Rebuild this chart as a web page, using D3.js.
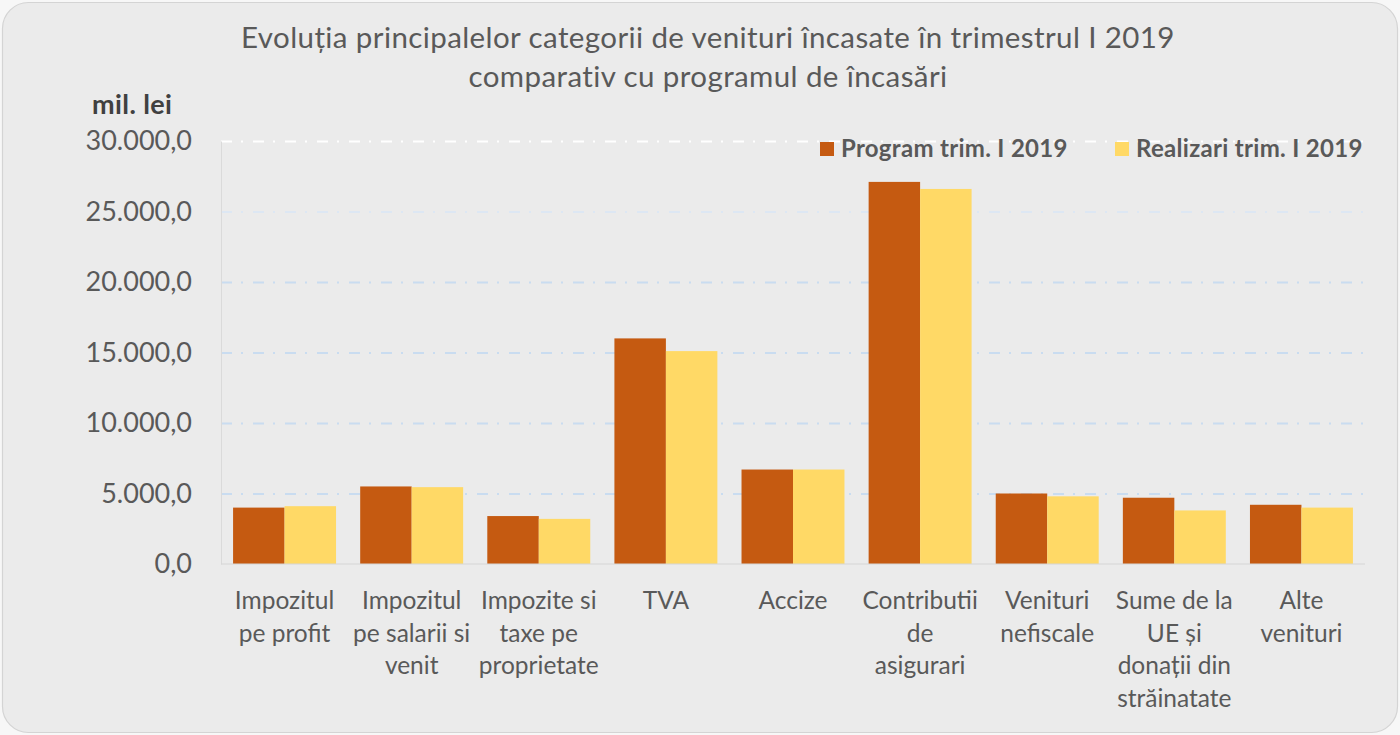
<!DOCTYPE html>
<html>
<head>
<meta charset="utf-8">
<script src="https://cdn.jsdelivr.net/npm/d3@7"></script>
<style>
  html, body { margin: 0; padding: 0; background: #f7f7f7; }
  svg { display: block; }
</style>
</head>
<body>
<div id="chart"></div>
<script>
// Categories (label lines as shown under the axis)
const categories = [
    ["Impozitul", "pe profit"],
    ["Impozitul", "pe salarii si", "venit"],
    ["Impozite si", "taxe pe", "proprietate"],
    ["TVA"],
    ["Accize"],
    ["Contributii", "de", "asigurari"],
    ["Venituri", "nefiscale"],
    ["Sume de la", "UE și", "donații din", "străinatate"],
    ["Alte", "venituri"]
];
const seriesNames = ["Program trim. I 2019", "Realizari trim. I 2019"];
const programValues = [4000, 5500, 3400, 16000, 6700, 27100, 5000, 4700, 4200];
const realizariValues = [4100, 5450, 3200, 15100, 6700, 26600, 4800, 3800, 4000];
const yTicks = [0, 5000, 10000, 15000, 20000, 25000, 30000];

const titleLines = [
    "Evoluția principalelor categorii de venituri încasate în trimestrul I 2019",
    "comparativ cu programul de încasări"
];
const unitLabel = "mil. lei";

const W = 1400, H = 735;
const margin = { top: 141, right: 35, bottom: 171, left: 221 };
const FONT = "Lato, 'Open Sans', sans-serif";
const TEXT = "#595959";
const colors = ["#c55a11", "#ffd966"];

const svg = d3.select("#chart").append("svg")
    .attr("width", W)
    .attr("height", H);

// Card background
svg.append("rect")
    .attr("x", 2.5).attr("y", 2.5)
    .attr("width", W - 5).attr("height", H - 5)
    .attr("rx", 26).attr("ry", 26)
    .attr("fill", "#ebebeb")
    .attr("stroke", "#d4d4d4")
    .attr("stroke-width", 1.2);

const x0 = d3.scaleBand()
    .domain(d3.range(categories.length))
    .range([margin.left, W - margin.right])
    .paddingInner(0.19)
    .paddingOuter(0.095);

const x1 = d3.scaleBand()
    .domain([0, 1])
    .range([0, x0.bandwidth()]);

const y = d3.scaleLinear()
    .domain([0, 30000])
    .range([H - margin.bottom, margin.top]);

// Grid lines
const gridColor = v => v === 30000 ? "#ffffff" : (v === 25000 ? "#dde7f3" : "#c9dcf0");
const grid = svg.append("g")
    .attr("transform", `translate(${margin.left},0)`)
    .call(d3.axisLeft(y).tickValues(yTicks.filter(v => v > 0))
        .tickSize(-(W - margin.left - margin.right)).tickFormat(""));
grid.select(".domain").remove();
grid.selectAll(".tick line")
    .attr("stroke", d => gridColor(d))
    .attr("stroke-width", 2)
    .attr("stroke-dasharray", "11,9,2,10");

// Y axis labels
const fmt = v => d3.format(",.1f")(v).replace(/,/g, "#").replace(".", ",").replace(/#/g, ".");
const yAxis = svg.append("g")
    .attr("transform", `translate(${margin.left},0)`)
    .call(d3.axisLeft(y).tickValues(yTicks).tickSize(0).tickPadding(29).tickFormat(fmt));
yAxis.select(".domain")
    .attr("stroke", "#dadada")
    .attr("stroke-width", 1);
yAxis.selectAll("text")
    .attr("fill", TEXT)
    .attr("font-family", FONT)
    .attr("font-size", "27px");

// Bars
const groups = svg.append("g")
    .selectAll("g")
    .data(categories.map((c, i) => i))
    .join("g")
    .attr("transform", i => `translate(${x0(i)},0)`);

groups.selectAll("rect")
    .data(i => [programValues[i], realizariValues[i]])
    .join("rect")
    .attr("x", (d, j) => x1(j))
    .attr("y", d => y(d))
    .attr("width", x1.bandwidth())
    .attr("height", d => y(0) - y(d))
    .attr("fill", (d, j) => colors[j]);

// Baseline
svg.append("line")
    .attr("x1", margin.left).attr("x2", W - margin.right)
    .attr("y1", y(0)).attr("y2", y(0))
    .attr("stroke", "#d6d6d6")
    .attr("stroke-width", 1.2);

// X labels
const xLabels = svg.append("g");
categories.forEach((lines, i) => {
    const t = xLabels.append("text")
        .attr("text-anchor", "middle")
        .attr("fill", TEXT)
        .attr("font-family", FONT)
        .attr("font-size", "24.5px");
    lines.forEach((ln, k) => {
        t.append("tspan")
            .attr("x", x0(i) + x0.bandwidth() / 2)
            .attr("y", y(0) + 45 + k * 32.7)
            .text(ln);
    });
});

// Title
svg.append("g").selectAll("text")
    .data(titleLines)
    .join("text")
    .attr("x", 708)
    .attr("y", (d, i) => 48 + i * 39)
    .attr("text-anchor", "middle")
    .attr("fill", TEXT)
    .attr("font-family", FONT)
    .attr("font-size", "29.5px")
    .attr("letter-spacing", "0.4px")
    .text(d => d);

// Unit label
svg.append("text")
    .attr("x", 92).attr("y", 114)
    .attr("fill", "#404040")
    .attr("font-family", FONT)
    .attr("font-weight", "bold")
    .attr("font-size", "27px")
    .attr("letter-spacing", "0.4px")
    .text(unitLabel);

// Legend
const legendX = [820, 1115];
const legend = svg.append("g").selectAll("g")
    .data(seriesNames)
    .join("g")
    .attr("transform", (d, i) => `translate(${legendX[i]},142)`);
legend.append("rect")
    .attr("width", 14).attr("height", 14)
    .attr("fill", (d, i) => colors[i]);
legend.append("text")
    .attr("x", 21).attr("y", 15)
    .attr("fill", TEXT)
    .attr("font-family", FONT)
    .attr("font-weight", "bold")
    .attr("font-size", "24px")
    .attr("letter-spacing", "0.3px")
    .text(d => d);
</script>
</body>
</html>
